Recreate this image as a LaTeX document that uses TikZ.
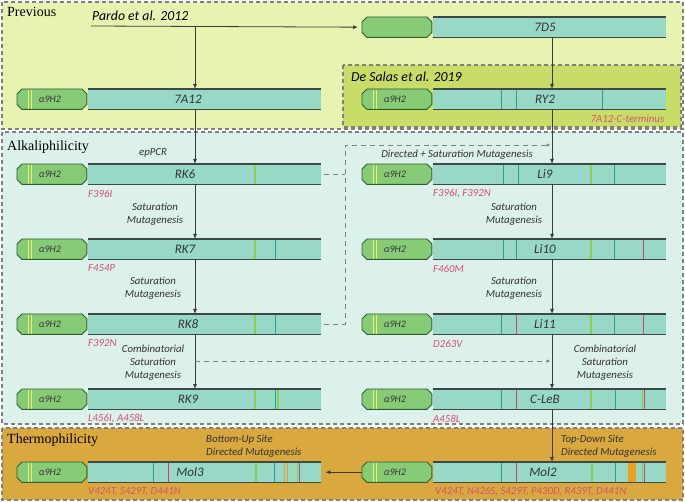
\documentclass[tikz,border=0pt]{standalone}
\usepackage{fontspec}
\setmainfont{Liberation Serif}
\newfontfamily\lblfont{Carlito}
\usetikzlibrary{arrows.meta}
\definecolor{prevbg}{HTML}{E6F3B1}
\definecolor{salasbg}{HTML}{C8DD68}
\definecolor{alkbg}{HTML}{DCF0EC}
\definecolor{thermobg}{HTML}{D9A83F}
\definecolor{barfill}{HTML}{97D8C6}
\definecolor{barline}{HTML}{3D4847}
\definecolor{pillfill}{HTML}{88CB77}
\definecolor{pillline}{HTML}{2E5E2E}
\definecolor{mteal}{HTML}{2E9B9E}
\definecolor{mred}{HTML}{D0406A}
\definecolor{mgreen}{HTML}{8DD04E}
\definecolor{morange}{HTML}{F0A020}
\definecolor{mutc}{HTML}{D45274}
\definecolor{txtc}{HTML}{333333}
\definecolor{arrc}{HTML}{3A3A3A}
\definecolor{dashc}{HTML}{808080}
\definecolor{pyellow}{HTML}{E9F26A}
\tikzset{
  panel/.style={draw=dashc, line width=1.1pt, dash pattern=on 4pt off 3pt},
  barbox/.style={fill=barfill, minimum width=233pt, minimum height=20pt, inner sep=0pt, anchor=north west},
  pillbox/.style={minimum width=69.5pt, minimum height=20pt, inner sep=0pt, anchor=north west},
  pillshape/.style={fill=pillfill, draw=pillline, line width=0.9pt},
  barl/.style={draw=barline, line width=1.4pt},
  yline/.style={draw=pyellow, line width=0.8pt},
  bartxt/.style={font=\lblfont\itshape\fontsize{13}{15}\selectfont, text=txtc, inner sep=0pt},
  pilltxt/.style={font=\lblfont\itshape\fontsize{10}{12}\selectfont, text=txtc, inner sep=0pt},
  mut/.style={font=\lblfont\itshape\fontsize{10.8}{13}\selectfont, text=mutc, inner sep=0pt},
  lab/.style={font=\lblfont\itshape\fontsize{10.8}{13}\selectfont, text=txtc, inner sep=0pt, align=center},
  ttl/.style={font=\fontsize{14}{16}\selectfont, text=black, inner sep=0pt},
  reftxt/.style={font=\lblfont\itshape\fontsize{13.8}{16}\selectfont, text=black, inner sep=0pt},
  arr/.style={draw=arrc, line width=0.8pt, -{Latex[length=5pt,width=4pt]}},
  dsh/.style={draw=dashc, line width=0.8pt, dash pattern=on 5pt off 4pt},
}
% #1 name, #2 pill left x, #3 top y, #4 label, #5 label x
\newcommand\mkrow[5]{%
  \node[pillbox] (#1p) at (#2,#3) {};
  \draw[pillshape] ([xshift=5pt]#1p.north west) -- ([xshift=-5pt]#1p.north east) -- ([yshift=-5pt]#1p.north east) -- ([yshift=5pt]#1p.south east) -- ([xshift=-5pt]#1p.south east) -- ([xshift=5pt]#1p.south west) -- ([yshift=5pt]#1p.south west) -- ([yshift=-5pt]#1p.north west) -- cycle;
  \node[barbox] (#1) at (#2+71,#3) {};
  \draw[barl] (#1.north west) -- (#1.north east);
  \draw[barl] (#1.south west) -- (#1.south east);
  \node[bartxt] (#1t) at (#5,#3+10) {#4};
}
\newcommand\pilldeco[1]{%
  \draw[yline] ([xshift=11pt,yshift=-0.6pt]#1.north west) -- ([xshift=11pt,yshift=0.6pt]#1.south west);
  \draw[yline] ([xshift=14.5pt,yshift=-0.6pt]#1.north west) -- ([xshift=14.5pt,yshift=0.6pt]#1.south west);
  \node[pilltxt] (#1a) at ([xshift=33pt]#1.west) {α9H2};
}
% node, offset, color, width
\newcommand\barmark[4]{%
  \draw[#3, line width=#4] ([xshift=#2pt,yshift=-0.8pt]#1.north west) -- ([xshift=#2pt,yshift=0.8pt]#1.south west);
}
\begin{document}
\begin{tikzpicture}[x=1pt,y=-1pt]
\useasboundingbox (0,0) rectangle (685,502);
\fill[white] (0,0) rectangle (685,502);
% panels
\draw[panel, fill=prevbg] (2,2) rectangle (683,129);
\draw[panel, fill=salasbg] (343,65) rectangle (681,127);
\draw[panel, fill=alkbg] (2,132) rectangle (683,424);
\draw[panel, fill=thermobg] (2,428) rectangle (683,500);
% titles
\node[ttl, anchor=west] (tprev) at (7,12) {Previous};
\node[ttl, anchor=west] (talk) at (7,147) {Alkaliphilicity};
\node[ttl, anchor=west] (tth) at (7,440) {Thermophilicity};
\node[reftxt, anchor=west] (tsalas) at (351,77) {De Salas et al. 2019};
\node[reftxt, anchor=west] (tpardo) at (92,16) {Pardo et al. 2012};
% column coordinates
\coordinate (LA) at (195,0);
\coordinate (RA) at (552,0);
% rows
\mkrow{d7d5}{362}{17}{7D5}{545}
\mkrow{a7a12}{17}{89}{7A12}{188}\pilldeco{a7a12p}
\mkrow{ry2}{362}{89}{RY2}{545}\pilldeco{ry2p}
\mkrow{rk6}{17}{164}{RK6}{185}\pilldeco{rk6p}
\mkrow{li9}{362}{164}{Li9}{545}\pilldeco{li9p}
\mkrow{rk7}{17}{239}{RK7}{185}\pilldeco{rk7p}
\mkrow{li10}{362}{239}{Li10}{545}\pilldeco{li10p}
\mkrow{rk8}{17}{314}{RK8}{188}\pilldeco{rk8p}
\mkrow{li11}{362}{314}{Li11}{545}\pilldeco{li11p}
\mkrow{rk9}{17}{389}{RK9}{188}\pilldeco{rk9p}
\mkrow{cleb}{362}{389}{C-LeB}{545}\pilldeco{clebp}
\mkrow{mol3}{17}{462}{Mol3}{190}\pilldeco{mol3p}
\mkrow{mol2}{362}{462}{Mol2}{543}\pilldeco{mol2p}
% marks: right column
\barmark{ry2}{68}{mteal}{1pt}\barmark{ry2}{83}{mteal}{1pt}\barmark{ry2}{169}{mteal}{1pt}
\barmark{li9}{70}{mteal}{1pt}\barmark{li9}{85}{mteal}{1pt}\barmark{li9}{158}{mgreen}{2pt}\barmark{li9}{181}{mteal}{1pt}
\barmark{li10}{70}{mteal}{1pt}\barmark{li10}{83}{mteal}{1pt}\barmark{li10}{158}{mgreen}{2pt}\barmark{li10}{181}{mteal}{1pt}\barmark{li10}{210}{mred}{1pt}
\barmark{li11}{68}{mteal}{1pt}\barmark{li11}{83}{mred}{1pt}\barmark{li11}{158}{mgreen}{2pt}\barmark{li11}{181}{mteal}{1pt}\barmark{li11}{210}{mred}{1pt}
\barmark{cleb}{68}{mteal}{1pt}\barmark{cleb}{83}{mred}{1pt}\barmark{cleb}{158}{mgreen}{2pt}\barmark{cleb}{182}{mteal}{1pt}\barmark{cleb}{209.5}{mgreen}{1pt}\barmark{cleb}{211.5}{mred}{1pt}
\barmark{mol2}{68}{mteal}{1pt}\barmark{mol2}{83}{mred}{1pt}\barmark{mol2}{159}{mgreen}{2pt}\barmark{mol2}{182}{mteal}{1pt}\barmark{mol2}{198.5}{morange}{8pt}\barmark{mol2}{209.5}{mgreen}{1pt}\barmark{mol2}{211.5}{mred}{1pt}
% marks: left column
\barmark{rk6}{167}{mgreen}{1.2pt}
\barmark{rk7}{167}{mgreen}{1.2pt}\barmark{rk7}{187}{mteal}{1pt}
\barmark{rk8}{167}{mgreen}{2pt}\barmark{rk8}{187}{mteal}{1pt}
\barmark{rk9}{167}{mgreen}{2pt}\barmark{rk9}{187}{mteal}{1pt}\barmark{rk9}{189.5}{mgreen}{2pt}
\barmark{mol3}{65}{mteal}{1pt}\barmark{mol3}{80}{mred}{1pt}\barmark{mol3}{168}{mgreen}{2.5pt}\barmark{mol3}{186}{mteal}{1pt}\barmark{mol3}{196}{morange}{0.8pt}\barmark{mol3}{199}{morange}{0.8pt}\barmark{mol3}{209.5}{mgreen}{1pt}\barmark{mol3}{211.5}{mred}{1pt}
% mutation labels
\node[mut, anchor=west] (rk6m) at ([yshift=-9pt]rk6.south west) {F396I};
\node[mut, anchor=west] (rk7m) at ([yshift=-9pt]rk7.south west) {F454P};
\node[mut, anchor=west] (rk8m) at ([yshift=-9pt]rk8.south west) {F392N};
\node[mut, anchor=west] (rk9m) at ([yshift=-9pt]rk9.south west) {L456I, A458L};
\node[mut, anchor=west] (mol3m) at ([yshift=-9pt]mol3.south west) {V424T, S429T, D441N};
\node[mut, anchor=west] (li9m) at ([yshift=-9pt]li9.south west) {F396I, F392N};
\node[mut, anchor=west] (li10m) at ([yshift=-9pt]li10.south west) {F460M};
\node[mut, anchor=west] (li11m) at ([yshift=-9pt]li11.south west) {D263V};
\node[mut, anchor=west] (clebm) at ([yshift=-9pt]cleb.south west) {A458L};
\node[mut, anchor=west] (mol2m) at ([xshift=2pt,yshift=-9pt]mol2.south west) {V424T, N426S, S429T, P430D, R439T, D441N};
\node[mut, anchor=east] (ry2m) at ([xshift=-2pt,yshift=-9pt]ry2.south east) {7A12-C-terminus};
% arrow labels
\node[lab] (l1) at (153,153) {epPCR};
\node[lab] (l2) at (457,155) {Directed + Saturation Mutagenesis};
\node[lab] (l3) at (155,214.5) {Saturation\\Mutagenesis};
\node[lab] (l4) at (514,214.5) {Saturation\\Mutagenesis};
\node[lab] (l5) at (153,288) {Saturation\\Mutagenesis};
\node[lab] (l6) at (514,288) {Saturation\\Mutagenesis};
\node[lab] (l7) at (153,363) {Combinatorial\\Saturation\\Mutagenesis};
\node[lab] (l8) at (605,363) {Combinatorial\\Saturation\\Mutagenesis};
\node[lab, align=left, anchor=west] (l9) at (206,446.5) {Bottom-Up Site\\Directed Mutagenesis};
\node[lab, align=left, anchor=west] (l10) at (561,446.5) {Top-Down Site\\Directed Mutagenesis};
% connectors
\coordinate (ps) at (91,26);
\draw[arr, shorten >=4pt] (ps) -- (d7d5p.west);
\draw[arr] (ps -| LA) -- (a7a12.north -| LA);
\draw[arr] (a7a12.south -| LA) -- (rk6.north -| LA);
\draw[arr] (rk6.south -| LA) -- (rk7.north -| LA);
\draw[arr] (rk7.south -| LA) -- (rk8.north -| LA);
\draw[arr] (rk8.south -| LA) -- (rk9.north -| LA);
\draw[arr] (d7d5.south -| RA) -- (ry2.north -| RA);
\draw[arr] (ry2.south -| RA) -- (li9.north -| RA);
\draw[arr] (li9.south -| RA) -- (li10.north -| RA);
\draw[arr] (li10.south -| RA) -- (li11.north -| RA);
\draw[arr] (li11.south -| RA) -- (cleb.north -| RA);
\draw[arr] (cleb.south -| RA) -- (mol2.north -| RA);
\draw[arr, shorten >=4pt] (mol2p.west) -- (mol3.east);
% dashed connectors
\coordinate (dj) at (345,145);
\coordinate (dc) at (195,361);
\draw[dsh] ([xshift=3pt]rk6.east) -- (rk6.east -| dj);
\draw[dsh, -{Latex[length=4pt,width=3.5pt]}, shorten >=1.5pt] ([xshift=3pt]rk8.east) -| (dj) -- (dj -| RA);
\draw[dsh, -{Latex[length=4pt,width=3.5pt]}, shorten >=1.5pt] (dc) -- (dc -| RA);
\end{tikzpicture}
\end{document}
